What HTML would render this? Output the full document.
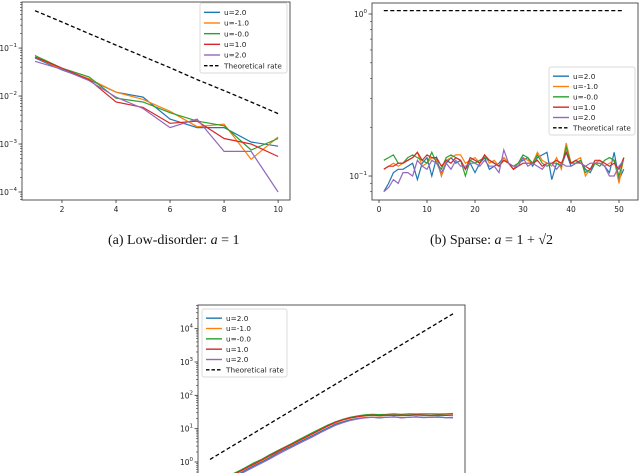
<!DOCTYPE html>
<html><head><meta charset="utf-8">
<style>
html,body{margin:0;padding:0;background:#fff;}
body{width:640px;height:473px;overflow:hidden;position:relative;font-family:"DejaVu Sans","Liberation Sans",sans-serif;}
.cap{position:absolute;font-family:"Liberation Serif",serif;font-size:14px;color:#111;white-space:nowrap;}
</style></head>
<body>
<svg id="fig" width="640" height="473" style="position:absolute;left:0;top:0"></svg>
<div class="cap" style="left:108px;top:233px">(a) Low-disorder: <i>a</i> = 1</div>
<div class="cap" style="left:430px;top:233px">(b) Sparse: <i>a</i> = 1 + √2</div>
<script>
// ---- data: panel (a)
const aX=[1,2,3,4,5,6,7,8,9,10];
const aBlue=[0.062,0.035,0.022,0.012,0.0095,0.0033,0.0022,0.0022,0.0011,0.0009];
const aOrange=[0.065,0.036,0.023,0.012,0.0085,0.0048,0.0023,0.0026,0.00048,0.0014];
const aGreen=[0.07,0.038,0.025,0.009,0.0075,0.0045,0.003,0.0024,0.00075,0.0013];
const aRed=[0.065,0.038,0.022,0.0075,0.0058,0.0027,0.003,0.0013,0.001,0.00055];
const aPurple=[0.053,0.036,0.021,0.0095,0.0055,0.0022,0.0033,0.0007,0.0007,0.0001];
const aTheory=[0.6,0.35,0.2,0.115,0.067,0.039,0.022,0.013,0.0075,0.0043];
const aXTicks=[2,4,6,8,10];
const aYTicks=[-4,-3,-2,-1];
// ---- data: panel (b)
const bBlue=[0.08,0.09,0.105,0.11,0.11,0.115,0.12,0.095,0.12,0.13,0.10,0.13,0.10,0.12,0.13,0.12,0.125,0.11,0.12,0.105,0.12,0.13,0.11,0.115,0.12,0.13,0.12,0.11,0.12,0.125,0.13,0.115,0.13,0.135,0.14,0.095,0.12,0.115,0.14,0.115,0.12,0.125,0.11,0.105,0.12,0.12,0.115,0.105,0.14,0.095,0.11];
const bOrange=[0.11,0.115,0.12,0.115,0.12,0.125,0.13,0.14,0.115,0.12,0.13,0.125,0.10,0.125,0.13,0.135,0.135,0.12,0.125,0.13,0.12,0.135,0.12,0.125,0.115,0.13,0.12,0.11,0.12,0.13,0.125,0.12,0.14,0.125,0.12,0.115,0.13,0.11,0.16,0.12,0.125,0.13,0.10,0.11,0.12,0.125,0.115,0.12,0.125,0.09,0.13];
const bGreen=[0.125,0.13,0.135,0.12,0.12,0.13,0.135,0.13,0.125,0.12,0.14,0.12,0.11,0.13,0.135,0.13,0.125,0.10,0.125,0.12,0.125,0.13,0.125,0.12,0.115,0.125,0.12,0.115,0.12,0.135,0.13,0.12,0.135,0.12,0.115,0.12,0.12,0.115,0.15,0.12,0.12,0.125,0.105,0.11,0.12,0.115,0.125,0.13,0.125,0.10,0.13];
const bRed=[0.11,0.115,0.115,0.12,0.12,0.125,0.13,0.14,0.125,0.135,0.13,0.13,0.115,0.125,0.12,0.13,0.125,0.11,0.13,0.125,0.12,0.135,0.125,0.12,0.115,0.125,0.12,0.11,0.115,0.12,0.12,0.12,0.125,0.115,0.12,0.12,0.125,0.12,0.14,0.12,0.125,0.12,0.115,0.11,0.125,0.125,0.12,0.115,0.12,0.11,0.13];
const bPurple=[0.08,0.085,0.095,0.09,0.105,0.105,0.10,0.125,0.115,0.11,0.125,0.12,0.105,0.12,0.11,0.125,0.115,0.115,0.12,0.12,0.115,0.125,0.115,0.115,0.105,0.145,0.12,0.115,0.115,0.13,0.115,0.12,0.115,0.11,0.12,0.12,0.11,0.12,0.115,0.115,0.12,0.12,0.115,0.12,0.12,0.12,0.115,0.10,0.10,0.115,0.125];
const bTheoryX=[1,51];
const bTheory=[1.05,1.05];
const bXTicks=[0,10,20,30,40,50];
const bYTicks=[-1,0];
// ---- data: panel (c)
const cX=[1,4,7,10,13,16,19,22,25,28,31,34,37,40,43,46,49,52,55,58,61,64,67,70,73,76,79,82,85,88,91,94,97,100];
const cBlue=[0.16,0.2,0.27,0.35,0.45,0.6,0.78,1.0,1.3,1.75,2.3,2.9,3.8,4.9,6.3,8.2,10.5,13.5,16,18.5,20,21.5,22,21,22,22.5,21.5,22,22.5,22,22,22.5,21.5,22];
const cOrange=[0.18,0.23,0.3,0.39,0.5,0.66,0.85,1.1,1.45,1.9,2.5,3.2,4.2,5.4,7,9.1,11.8,14.8,17.8,20.4,22.4,24,25,24,25,25.5,24.5,25,25.5,25,24.5,25,25.5,26];
const cGreen=[0.2,0.25,0.33,0.43,0.55,0.72,0.95,1.2,1.6,2.1,2.7,3.5,4.6,6,7.8,10,12.8,16,19,22,24,26,27,26.5,27,28,27,28,27.5,28,28,27.5,28,28.5];
const cRed=[0.19,0.24,0.31,0.4,0.52,0.68,0.88,1.15,1.5,1.95,2.6,3.3,4.3,5.6,7.2,9.4,12.2,15.5,18.5,21,23,24.5,25.5,24.5,25.5,25,25.5,25,26,25.5,25,25.5,25,25.5];
const cPurple=[0.15,0.19,0.25,0.32,0.42,0.55,0.72,0.93,1.2,1.6,2.1,2.7,3.5,4.5,5.8,7.6,9.8,12.5,15,17.5,19.5,21,22,21.5,22,22.5,21,22,22.5,21.5,22,22,21.5,21];
const cTheoryX=[1,100];
const cTheory=[1.2,28000];
const cYTicks=[0,1,2,3,4];

const COLORS=['#1f77b4','#ff7f0e','#2ca02c','#d62728','#9467bd'];
const LABELS=['u=2.0','u=-1.0','u=-0.0','u=1.0','u=2.0'];
const NS='http://www.w3.org/2000/svg';
const svg=document.getElementById('fig');
function mk(tag,attrs,parent){const e=document.createElementNS(NS,tag);for(const k in attrs)e.setAttribute(k,attrs[k]);(parent||svg).appendChild(e);return e;}

function panel(id,box,xr,yr){
  const g=mk('g',{});
  
  
  const cid='clip-'+id;
  const cp=mk('clipPath',{id:cid},g);
  mk('rect',{x:box.l,y:box.t,width:box.r-box.l,height:box.b-box.t},cp);
  const sx=v=>box.l+(v-xr[0])/(xr[1]-xr[0])*(box.r-box.l);
  const sy=v=>box.b-(Math.log10(v)-yr[0])/(yr[1]-yr[0])*(box.b-box.t);
  const plot=mk('g',{'clip-path':'url(#'+cid+')'},g);
  return {g,plot,sx,sy,box,yr};
}
function line(p,xs,ys,color,name,dash){
  const pts=xs.map((x,i)=>p.sx(x).toFixed(1)+','+p.sy(ys[i]).toFixed(1)).join(' ');
  const el=mk('polyline',{points:pts,fill:'none',stroke:color,'stroke-width':dash?1.3:1.2});
  if(dash)el.setAttribute('stroke-dasharray','4,2.5');
  
  
  p.plot.appendChild(el);
}
function frame(p){
  const b=p.box;
  const r=mk('rect',{x:b.l,y:b.t,width:b.r-b.l,height:b.b-b.t,fill:'none',stroke:'#444','stroke-width':0.9},p.g);
  
  
}
function xticks(p,ticks){
  ticks.forEach(t=>{
    const x=p.sx(t);
    mk('line',{x1:x,x2:x,y1:p.box.b,y2:p.box.b+3,stroke:'#333','stroke-width':0.8},p.g);
    const tx=mk('text',{x:x,y:p.box.b+12,'font-size':7.5,'text-anchor':'middle',fill:'#222'},p.g);
    tx.textContent=t;
    
    
  });
}
function yticks(p,ticks){
  for(let d=Math.floor(p.yr[0]);d<=Math.ceil(p.yr[1]);d++){
    for(let m=2;m<10;m++){
      const v=m*Math.pow(10,d);const lv=Math.log10(v);
      if(lv<p.yr[0]||lv>p.yr[1])continue;
      const y=p.sy(v);
      mk('line',{x1:p.box.l-2,x2:p.box.l,y1:y,y2:y,stroke:'#333','stroke-width':0.6},p.g);
    }
  }
  ticks.forEach(t=>{
    const y=p.sy(Math.pow(10,t));
    mk('line',{x1:p.box.l-3.5,x2:p.box.l,y1:y,y2:y,stroke:'#333','stroke-width':0.8},p.g);
    const tx=mk('text',{x:p.box.l-5,y:y+3,'font-size':7.5,'text-anchor':'end',fill:'#222'},p.g);
    const s1=mk('tspan',{},tx);s1.textContent='10';
    const s2=mk('tspan',{'font-size':5.5,dy:-4},tx);s2.textContent=String(t).replace('-','−');
    
    
  });
}
function legend(p,x,y,w,h){
  const lg=mk('g',{},p.g);
  
  
  mk('rect',{x:x,y:y,width:w,height:h,fill:'#fff','fill-opacity':0.85,stroke:'#ccc','stroke-width':0.7,rx:2},lg);
  const step=(h-6)/6;
  for(let i=0;i<6;i++){
    const yy=y+4+step*(i+0.5);
    const ln=mk('line',{x1:x+4,x2:x+20,y1:yy,y2:yy,stroke:i<5?COLORS[i]:'#000','stroke-width':1.4},lg);
    if(i==5)ln.setAttribute('stroke-dasharray','3.5,2');
    const t=mk('text',{x:x+24,y:yy+2.6,'font-size':7.3,fill:'#222'},lg);
    t.textContent=i<5?LABELS[i]:'Theoretical rate';
    
    
  }
}
// panel a
const pa=panel('panel-a',{l:22,r:290,t:2,b:200},[0.52,10.44],[-4.167,-0.04]);
line(pa,aX,aTheory,'#000','theory-line-a',true);
[aBlue,aOrange,aGreen,aRed,aPurple].forEach((s,i)=>line(pa,aX,s,COLORS[i],'series-a-'+i,false));
frame(pa);xticks(pa,aXTicks);yticks(pa,aYTicks);legend(pa,200,3,87,70);
// panel b
const bX=bBlue.map((_,i)=>i+1);
const pb=panel('panel-b',{l:372,r:638,t:3,b:200},[-1.46,53.96],[-1.148,0.068]);
line(pb,bTheoryX,bTheory,'#000','theory-line-b',true);
[bBlue,bOrange,bGreen,bRed,bPurple].forEach((s,i)=>line(pb,bX,s,COLORS[i],'series-b-'+i,false));
frame(pb);xticks(pb,bXTicks);yticks(pb,bYTicks);legend(pb,549,67,86,68);
// panel c
const pc=panel('panel-c',{l:198,r:465,t:305,b:480},[-3.9,104.9],[-0.54,4.71]);
line(pc,cTheoryX,cTheory,'#000','theory-line-c',true);
[cBlue,cOrange,cGreen,cRed,cPurple].forEach((s,i)=>line(pc,cX,s,COLORS[i],'series-c-'+i,false));
frame(pc);yticks(pc,cYTicks);legend(pc,202,309,85,68);
</script>
</body></html>
